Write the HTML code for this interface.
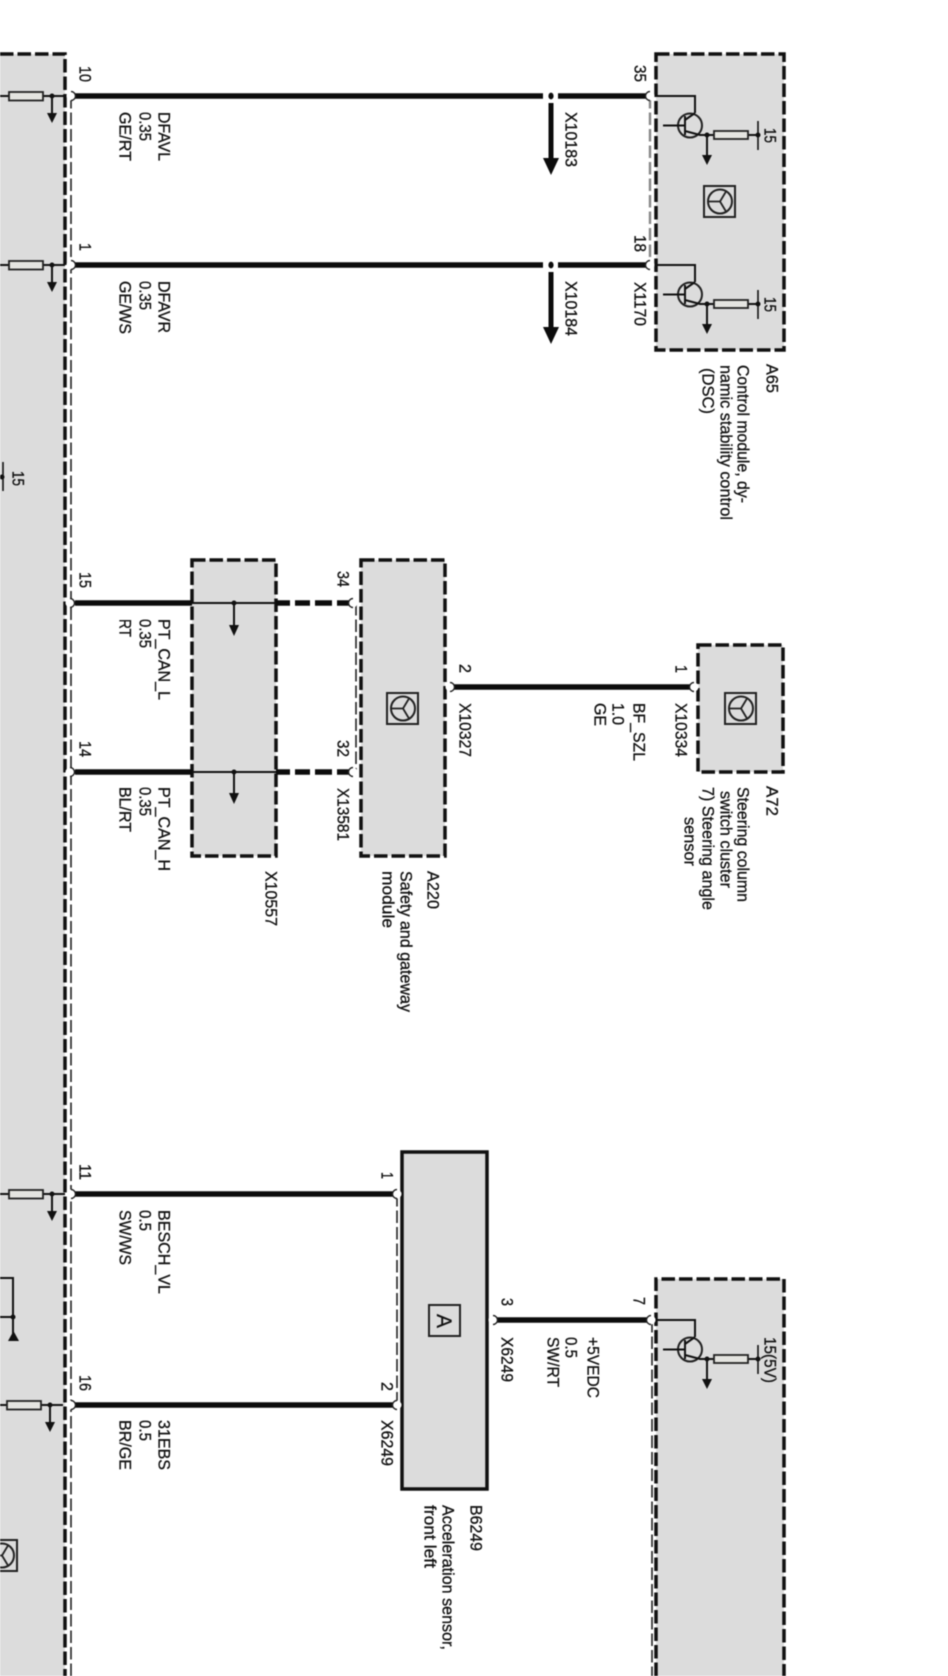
<!DOCTYPE html>
<html><head><meta charset="utf-8"><style>
html,body{margin:0;padding:0;background:#fff}
svg{display:block;filter:blur(.4px)}
text{font-family:"Liberation Sans",sans-serif;font-size:16.5px;fill:#111;stroke:#111;stroke-width:.3px}
</style></head><body>
<svg width="948" height="1676" viewBox="0 0 948 1676" xmlns="http://www.w3.org/2000/svg">
<defs>
<g id="tr">
<path d="M650 96H695V113" fill="none" stroke="#111" stroke-width="2"/>
<circle cx="690" cy="125.5" r="12" fill="none" stroke="#222" stroke-width="2"/>
<path d="M663 125.5H685M685 116V135M685 120L695 113M685 131L700 135H758" fill="none" stroke="#111" stroke-width="2"/>
<rect x="714" y="131" width="34" height="8" fill="#e4e4e0" stroke="#222" stroke-width="1.8"/>
<circle cx="707" cy="135" r="2.5" fill="#111"/>
<path d="M707 135V156" stroke="#111" stroke-width="2"/>
<path d="M702 155H712L707 165Z" fill="#111"/>
<circle cx="758" cy="135" r="2.5" fill="#111"/>
<path d="M758 121V150" stroke="#111" stroke-width="1.6"/>
</g>
<g id="lf">
<path d="M0 96H65" stroke="#111" stroke-width="2"/>
<rect x="9" y="92" width="34" height="8.5" fill="#e4e4e0" stroke="#222" stroke-width="1.8"/>
<circle cx="52" cy="96" r="2.5" fill="#111"/>
<path d="M52 96V114" stroke="#111" stroke-width="2"/>
<path d="M47 113H57L52 123Z" fill="#111"/>
</g>
<g id="whl">
<rect x="0" y="0" width="31" height="31" fill="#dcdcdc" stroke="#222" stroke-width="2"/>
<circle cx="16" cy="15.5" r="12" fill="none" stroke="#222" stroke-width="2"/>
<path d="M16 15.5L4 15.5M16 15.5L22 5.5M16 15.5L22 25.5" stroke="#222" stroke-width="1.8" fill="none"/>
</g>
<g id="pl"><circle r="4.5" fill="#fff"/><path d="M0 -4.5A4.5 4.5 0 0 0 0 4.5" fill="none" stroke="#222" stroke-width="1.4"/></g>
<g id="pr"><circle r="4.5" fill="#fff"/><path d="M0 -4.5A4.5 4.5 0 0 1 0 4.5" fill="none" stroke="#222" stroke-width="1.4"/></g>
</defs>

<!-- gray boxes -->
<g fill="#dcdcdc">
<rect x="0" y="54" width="65" height="1622"/>
<rect x="656" y="54" width="128" height="296"/>
<rect x="192" y="560" width="84" height="296"/>
<rect x="361" y="560" width="84" height="296"/>
<rect x="698" y="645" width="85" height="127"/>
<rect x="402" y="1152" width="85" height="337"/>
<rect x="656" y="1279" width="128" height="397"/>
</g>

<!-- thick dashed borders -->
<g fill="none" stroke="#111" stroke-width="3.5" stroke-dasharray="13.5 4">
<path d="M0 54H65V1676"/>
<rect x="656" y="54" width="128" height="296"/>
<rect x="192" y="560" width="84" height="296"/>
<rect x="361" y="560" width="84" height="296"/>
<rect x="698" y="645" width="85" height="127"/>
<path d="M656 1676V1279H784V1676"/>
</g>

<!-- solid box -->
<rect x="402" y="1152" width="85" height="337" fill="none" stroke="#111" stroke-width="3.5"/>

<!-- thin dashed connector-strip lines -->
<g fill="none" stroke="#222" stroke-width="1.6" stroke-dasharray="12.5 4">
<path d="M71 96V1676"/>
<path d="M650 96V265" stroke="#888" stroke-width="2.4"/>
<path d="M356 603V772"/>
<path d="M397 1194V1405"/>
<path d="M652 1320V1676"/>
</g>

<!-- wires -->
<g stroke="#0c0c0c" stroke-width="5.5" fill="none">
<path d="M75 96H543M558 96H646"/>
<path d="M75 265H543M558 265H646"/>
<path d="M75 603H192M276 603H290"/>
<path d="M75 772H192M276 772H290"/>
<path d="M295 603H310M315 603H332M337 603H350"/>
<path d="M295 772H310M315 772H332M337 772H350"/>
<path d="M454 687H690"/>
<path d="M75 1194H393"/>
<path d="M75 1405H393"/>
<path d="M497 1320H647"/>
</g>
<path d="M192 603H276M192 772H276" stroke="#111" stroke-width="2"/>

<!-- X10183 / X10184 continuation arrows -->
<g stroke="#0c0c0c" stroke-width="5"><path d="M551 103V160M551 272V329"/></g>
<g fill="#0c0c0c"><path d="M543 158H559L551 175ZM543 327H559L551 344Z"/>
<ellipse cx="551" cy="96" rx="2.6" ry="3.4"/><ellipse cx="551" cy="265" rx="2.6" ry="3.4"/></g>

<!-- X10557 arrows -->
<g stroke="#111" stroke-width="2"><path d="M234 603V626M234 772V794"/></g>
<g fill="#111"><path d="M229 625H239L234 636ZM229 793H239L234 804Z"/>
<circle cx="234" cy="603" r="2.5"/><circle cx="234" cy="772" r="2.5"/></g>

<!-- transistors -->
<use href="#tr"/>
<use href="#tr" transform="translate(0,169)"/>
<use href="#tr" transform="translate(0,1224)"/>

<!-- left box internals -->
<use href="#lf"/>
<use href="#lf" transform="translate(0,169)"/>
<use href="#lf" transform="translate(0,1098)"/>
<use href="#lf" transform="translate(-2,1309)"/>
<path d="M0 1278H13V1334M0 1317H13" fill="none" stroke="#111" stroke-width="2"/>
<circle cx="13" cy="1317" r="2.5" fill="#111"/>
<path d="M8 1341H19L13.5 1331Z" fill="#111"/>
<path d="M3 462V491" stroke="#111" stroke-width="1.6"/>
<circle cx="2" cy="477" r="2.5" fill="#111"/>
<g transform="translate(-14,1540)"><use href="#whl"/></g>

<!-- pins -->
<use href="#pr" x="71" y="96"/><use href="#pr" x="71" y="265"/>
<use href="#pr" x="70" y="603"/><use href="#pr" x="70" y="772"/>
<use href="#pr" x="71" y="1194"/><use href="#pr" x="71" y="1405"/>
<use href="#pl" x="650" y="96"/><use href="#pl" x="650" y="265"/>
<use href="#pl" x="353" y="603"/><use href="#pl" x="353" y="772"/>
<use href="#pr" x="450" y="687"/><use href="#pl" x="694" y="687"/>
<use href="#pl" x="397" y="1194"/><use href="#pl" x="397" y="1405"/>
<use href="#pr" x="493" y="1320"/><use href="#pl" x="651" y="1320"/>

<!-- icons -->
<g transform="translate(704,186)"><use href="#whl"/></g>
<g transform="translate(387,693)"><use href="#whl"/></g>
<g transform="translate(725,693)"><use href="#whl"/></g>
<rect x="429" y="1305" width="31" height="31" fill="#dcdcdc" stroke="#222" stroke-width="2"/>
<text style="font-size:21px" transform="translate(437,1314) rotate(90)" textLength="14" lengthAdjust="spacingAndGlyphs">A</text>

<g transform="translate(1.5,0)">
<!-- left column pins -->
<text transform="translate(78,66) rotate(90)" textLength="16" lengthAdjust="spacingAndGlyphs">10</text>
<text transform="translate(78,243) rotate(90)" textLength="8" lengthAdjust="spacingAndGlyphs">1</text>
<text transform="translate(78,572) rotate(90)" textLength="16" lengthAdjust="spacingAndGlyphs">15</text>
<text transform="translate(78,741) rotate(90)" textLength="16" lengthAdjust="spacingAndGlyphs">14</text>
<text transform="translate(78,1164) rotate(90)" textLength="16" lengthAdjust="spacingAndGlyphs">11</text>
<text transform="translate(78,1375) rotate(90)" textLength="16" lengthAdjust="spacingAndGlyphs">16</text>
<text transform="translate(11,471) rotate(90)" textLength="15" lengthAdjust="spacingAndGlyphs">15</text>

<!-- wire labels -->
<text transform="translate(157,112) rotate(90)" textLength="49" lengthAdjust="spacingAndGlyphs">DFAVL</text>
<text transform="translate(138,112) rotate(90)" textLength="29" lengthAdjust="spacingAndGlyphs">0.35</text>
<text transform="translate(118,112) rotate(90)" textLength="49" lengthAdjust="spacingAndGlyphs">GE/RT</text>
<text transform="translate(157,281) rotate(90)" textLength="52" lengthAdjust="spacingAndGlyphs">DFAVR</text>
<text transform="translate(138,281) rotate(90)" textLength="29" lengthAdjust="spacingAndGlyphs">0.35</text>
<text transform="translate(118,281) rotate(90)" textLength="53" lengthAdjust="spacingAndGlyphs">GE/WS</text>
<text transform="translate(157,619) rotate(90)" textLength="81" lengthAdjust="spacingAndGlyphs">PT_CAN_L</text>
<text transform="translate(138,619) rotate(90)" textLength="29" lengthAdjust="spacingAndGlyphs">0.35</text>
<text transform="translate(118,619) rotate(90)" textLength="18" lengthAdjust="spacingAndGlyphs">RT</text>
<text transform="translate(157,787) rotate(90)" textLength="84" lengthAdjust="spacingAndGlyphs">PT_CAN_H</text>
<text transform="translate(138,787) rotate(90)" textLength="29" lengthAdjust="spacingAndGlyphs">0.35</text>
<text transform="translate(118,787) rotate(90)" textLength="45" lengthAdjust="spacingAndGlyphs">BL/RT</text>
<text transform="translate(157,1210) rotate(90)" textLength="84" lengthAdjust="spacingAndGlyphs">BESCH_VL</text>
<text transform="translate(138,1210) rotate(90)" textLength="21" lengthAdjust="spacingAndGlyphs">0.5</text>
<text transform="translate(118,1210) rotate(90)" textLength="55" lengthAdjust="spacingAndGlyphs">SW/WS</text>
<text transform="translate(157,1420) rotate(90)" textLength="50" lengthAdjust="spacingAndGlyphs">31EBS</text>
<text transform="translate(138,1420) rotate(90)" textLength="21" lengthAdjust="spacingAndGlyphs">0.5</text>
<text transform="translate(118,1420) rotate(90)" textLength="50" lengthAdjust="spacingAndGlyphs">BR/GE</text>

<!-- X10557 / A220 -->
<text transform="translate(264,871) rotate(90)" textLength="55" lengthAdjust="spacingAndGlyphs">X10557</text>
<text transform="translate(336,571) rotate(90)" textLength="16" lengthAdjust="spacingAndGlyphs">34</text>
<text transform="translate(336,740) rotate(90)" textLength="17" lengthAdjust="spacingAndGlyphs">32</text>
<text transform="translate(336,788) rotate(90)" textLength="53" lengthAdjust="spacingAndGlyphs">X13581</text>
<text transform="translate(426,871) rotate(90)" textLength="38" lengthAdjust="spacingAndGlyphs">A220</text>
<text transform="translate(399,871) rotate(90)" textLength="141" lengthAdjust="spacingAndGlyphs">Safety and gateway</text>
<text transform="translate(381,871) rotate(90)" textLength="57" lengthAdjust="spacingAndGlyphs">module</text>
<text transform="translate(458,664) rotate(90)" textLength="9" lengthAdjust="spacingAndGlyphs">2</text>
<text transform="translate(458,703) rotate(90)" textLength="54" lengthAdjust="spacingAndGlyphs">X10327</text>

<!-- BF_SZL / A72 -->
<text transform="translate(632,703) rotate(90)" textLength="58" lengthAdjust="spacingAndGlyphs">BF_SZL</text>
<text transform="translate(611,703) rotate(90)" textLength="22" lengthAdjust="spacingAndGlyphs">1.0</text>
<text transform="translate(593,703) rotate(90)" textLength="23" lengthAdjust="spacingAndGlyphs">GE</text>
<text transform="translate(674,665) rotate(90)" textLength="8" lengthAdjust="spacingAndGlyphs">1</text>
<text transform="translate(674,703) rotate(90)" textLength="54" lengthAdjust="spacingAndGlyphs">X10334</text>
<text transform="translate(765,786) rotate(90)" textLength="30" lengthAdjust="spacingAndGlyphs">A72</text>
<text transform="translate(736,787) rotate(90)" textLength="115" lengthAdjust="spacingAndGlyphs">Steering column</text>
<text transform="translate(719,791) rotate(90)" textLength="97" lengthAdjust="spacingAndGlyphs">switch cluster</text>
<text transform="translate(701,787) rotate(90)" textLength="123" lengthAdjust="spacingAndGlyphs">7) Steering angle</text>
<text transform="translate(683,817) rotate(90)" textLength="49" lengthAdjust="spacingAndGlyphs">sensor</text>

<!-- top right -->
<text transform="translate(564,112) rotate(90)" textLength="55" lengthAdjust="spacingAndGlyphs">X10183</text>
<text transform="translate(564,281) rotate(90)" textLength="55" lengthAdjust="spacingAndGlyphs">X10184</text>
<text transform="translate(633,65) rotate(90)" textLength="17" lengthAdjust="spacingAndGlyphs">35</text>
<text transform="translate(633,235) rotate(90)" textLength="17" lengthAdjust="spacingAndGlyphs">18</text>
<text transform="translate(633,282) rotate(90)" textLength="44" lengthAdjust="spacingAndGlyphs">X1170</text>
<text transform="translate(763,128) rotate(90)" textLength="15" lengthAdjust="spacingAndGlyphs">15</text>
<text transform="translate(763,297) rotate(90)" textLength="15" lengthAdjust="spacingAndGlyphs">15</text>
<text transform="translate(765,364) rotate(90)" textLength="29" lengthAdjust="spacingAndGlyphs">A65</text>
<text transform="translate(736,365) rotate(90)" textLength="138" lengthAdjust="spacingAndGlyphs">Control module, dy-</text>
<text transform="translate(719,365) rotate(90)" textLength="155" lengthAdjust="spacingAndGlyphs">namic stability control</text>
<text transform="translate(701,368) rotate(90)" textLength="46" lengthAdjust="spacingAndGlyphs">(DSC)</text>

<!-- B6249 -->
<text transform="translate(380,1172) rotate(90)" textLength="7" lengthAdjust="spacingAndGlyphs">1</text>
<text transform="translate(380,1382) rotate(90)" textLength="9" lengthAdjust="spacingAndGlyphs">2</text>
<text transform="translate(380,1420) rotate(90)" textLength="46" lengthAdjust="spacingAndGlyphs">X6249</text>
<text transform="translate(500,1298) rotate(90)" textLength="8" lengthAdjust="spacingAndGlyphs">3</text>
<text transform="translate(500,1337) rotate(90)" textLength="45" lengthAdjust="spacingAndGlyphs">X6249</text>
<text transform="translate(586,1337) rotate(90)" textLength="61" lengthAdjust="spacingAndGlyphs">+5VEDC</text>
<text transform="translate(564,1337) rotate(90)" textLength="21" lengthAdjust="spacingAndGlyphs">0.5</text>
<text transform="translate(546,1337) rotate(90)" textLength="50" lengthAdjust="spacingAndGlyphs">SW/RT</text>
<text transform="translate(632,1297) rotate(90)" textLength="8" lengthAdjust="spacingAndGlyphs">7</text>
<text transform="translate(763,1337) rotate(90)" textLength="46" lengthAdjust="spacingAndGlyphs">15(5V)</text>
<text transform="translate(469,1505) rotate(90)" textLength="46" lengthAdjust="spacingAndGlyphs">B6249</text>
<text transform="translate(441,1505) rotate(90)" textLength="145" lengthAdjust="spacingAndGlyphs">Acceleration sensor,</text>
<text transform="translate(423,1505) rotate(90)" textLength="63" lengthAdjust="spacingAndGlyphs">front left</text>
</g>
</svg>
</body></html>
